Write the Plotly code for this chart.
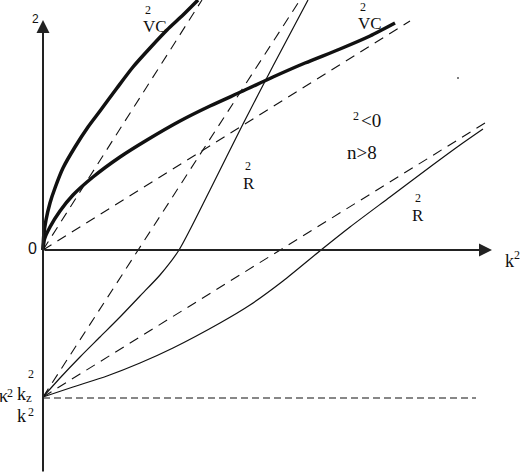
import plotly.graph_objects as go

# ---- data (k^2 on x, omega^2 on y, schematic units) ----
vc_upper_k2 = [0, 0.8, 3, 7, 12, 20, 32, 45, 57, 74, 90, 107, 124, 140, 155]
vc_upper_w2 = [0, 15, 30, 47, 62, 82, 103, 123, 139, 162, 183, 202, 220, 235, 250]

vc_lower_k2 = [0, 1.5, 7, 17, 30, 50, 77, 104, 137, 167, 200, 230, 262, 297, 327, 352]
vc_lower_w2 = [0, 11, 23, 39, 55, 73, 93, 110, 129, 144, 159, 173, 187, 201, 214, 227]

r_steep_k2 = [0, 17, 37, 57, 77, 97, 117, 136, 167, 200, 230, 265]
r_steep_w2 = [-147, -128, -107, -87, -67, -46, -25, 0, 60, 126, 184, 250]

r_shallow_k2 = [0, 30, 64, 97, 130, 177, 207, 240, 278, 307, 347, 387, 417, 440]
r_shallow_w2 = [-147, -137, -126, -113, -98, -73, -55, -31, 0, 23, 53, 83, 105, 121]

asym_steep_top_k2 = [0, 159]
asym_steep_top_w2 = [0, 250]
asym_steep_bot_k2 = [0, 257]
asym_steep_bot_w2 = [-147, 250]
asym_flat_top_k2 = [0, 367]
asym_flat_top_w2 = [0, 229]
asym_flat_bot_k2 = [0, 442]
asym_flat_bot_w2 = [-147, 127]
level_k2 = [0, 433]
level_w2 = [-148, -148]

INK = "#111111"
SERIF = "Liberation Serif"
SANS = "Liberation Sans"

fig = go.Figure()

def curve(x, y, width, dash="solid", shape="spline", smooth=0.7):
    line = dict(color=INK, width=width, dash=dash, shape=shape)
    if shape == "spline":
        line["smoothing"] = smooth
    fig.add_trace(go.Scatter(x=x, y=y, mode="lines", line=line,
                             hoverinfo="skip", showlegend=False))

diag_dash = "10px,7px"
curve(asym_steep_top_k2, asym_steep_top_w2, 1.1, diag_dash, "linear")
curve(asym_steep_bot_k2, asym_steep_bot_w2, 1.1, diag_dash, "linear")
curve(asym_flat_top_k2, asym_flat_top_w2, 1.1, diag_dash, "linear")
curve(asym_flat_bot_k2, asym_flat_bot_w2, 1.1, diag_dash, "linear")
curve(level_k2, level_w2, 1.1, "7px,4px", "linear")

curve(r_steep_k2, r_steep_w2, 1.2)
curve(r_shallow_k2, r_shallow_w2, 1.2)
curve(vc_upper_k2, vc_upper_w2, 3.5)
curve(vc_lower_k2, vc_lower_w2, 3.5)

# tiny speck
fig.add_trace(go.Scatter(x=[415], y=[172], mode="markers",
                         marker=dict(size=2, color="#555"), hoverinfo="skip", showlegend=False))

annotations = []
# axes with arrows
annotations.append(dict(x=449, y=0, ax=0, ay=0, xref="x", yref="y", axref="x", ayref="y",
                        text="", showarrow=True, arrowhead=2, arrowsize=1.3, arrowwidth=2,
                        arrowcolor="#222", standoff=0))
annotations.append(dict(x=0, y=230, ax=0, ay=-223, xref="x", yref="y", axref="x", ayref="y",
                        text="", showarrow=True, arrowhead=2, arrowsize=1.3, arrowwidth=2,
                        arrowcolor="#222", standoff=0))

def txt(x, y, s, size, family=SERIF, xanchor="center"):
    annotations.append(dict(x=x, y=y, xref="x", yref="y", text=s, showarrow=False,
                            xanchor=xanchor, yanchor="middle",
                            font=dict(family=family, size=size, color=INK)))

txt(-8, 231, "2", 12, SANS)
txt(-11, 2, "0", 16, SANS)
txt(105, 240, "2", 12)
txt(112, 224, "VC", 17)
txt(320, 243, "2", 12)
txt(327, 227, "VC", 17)
txt(205, 84, "2", 12)
txt(206, 67, "R", 17)
txt(375, 52, "2", 12)
txt(375, 35, "R", 17)
txt(313, 134, "2", 12)
txt(328, 130, "&lt;0", 19)
txt(319, 98, "n&gt;8", 19)
txt(466, -11, "k", 18)
txt(474, -5, "2", 12)
# kappa^2 k_z^2 / k^2
txt(-40, -146, "κ", 18)
txt(-33, -143, "2", 12)
txt(-22, -144, "k", 18)
txt(-14, -147, "z", 13)
txt(-12, -124, "2", 12)
txt(-22, -166, "k", 18)
txt(-12, -162, "2", 12)

fig.update_layout(
    width=520, height=474,
    margin=dict(l=0, r=0, t=0, b=0),
    paper_bgcolor="white", plot_bgcolor="white",
    xaxis=dict(range=[-43, 477], visible=False, fixedrange=True),
    yaxis=dict(range=[-224, 250], visible=False, fixedrange=True),
    annotations=annotations,
    showlegend=False,
)

fig.write_html("out.html", config={"displayModeBar": False},
               post_script="document.body.style.margin='0';document.body.style.overflow='hidden';")
